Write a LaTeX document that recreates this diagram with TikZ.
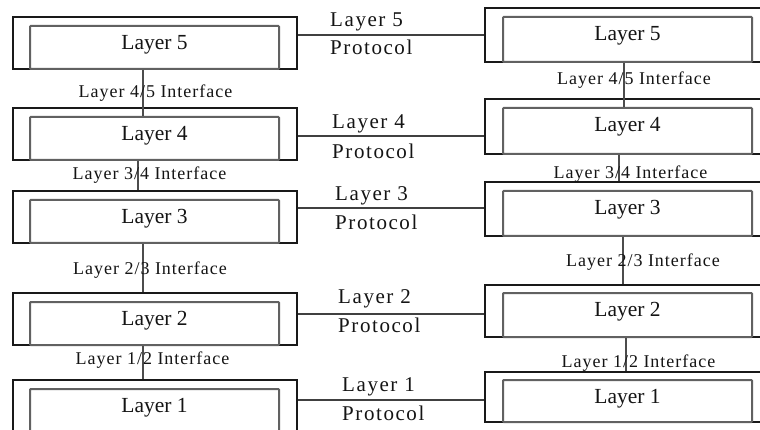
\documentclass[tikz,border=0pt]{standalone}
\usepackage{fontspec}
\setmainfont{Liberation Serif}
\usetikzlibrary{fit,calc}

\tikzset{
  outerbox/.style={draw=black!90, line width=1.3pt, inner sep=0pt, fill=white},
  innerbox/.style={draw=black!62, line width=2pt, inner sep=0pt, fill=white, rounded corners=0.8pt},
  boxlabel/.style={anchor=base, inner sep=0pt, text=black!92,
    font=\fontsize{21.5}{24}\selectfont},
  ifacelabel/.style={anchor=base, inner sep=0pt, text=black!92,
    font=\fontsize{18}{20}\selectfont\addfontfeatures{LetterSpace=5.5}},
  protolabel/.style={anchor=base west, inner sep=0pt, text=black!92,
    font=\fontsize{21}{24}\selectfont\addfontfeatures{LetterSpace=7.5}},
  ifaceline/.style={draw=black!70, line width=1.8pt},
  protoline/.style={draw=black!75, line width=1.5pt},
}

% #1 name, #2 outer left, #3 outer right, #4 outer top,
% #5 inner left, #6 inner right, #7 inner top, #8 bottom, #9 label
\newcommand{\layerbox}[9]{%
  \node[outerbox, fit={(#2,#4) (#3,#8)}] (o#1) {};
  \node[innerbox, fit={(#5,#7) (#6,#8)}] (i#1) {};
  \node[boxlabel] (t#1) at ($(i#1.north)+(0,24.5)$) {#9};
}

\begin{document}
\begin{tikzpicture}[x=1pt,y=-1pt]
  \useasboundingbox (0,0) rectangle (760,430);
  \fill[white] (0,0) rectangle (760,430);
  \clip (0,0) rectangle (760,430);

  % left stack
  \layerbox{5L}{13}{297}{17}{30}{279}{26}{69}{Layer 5}
  \layerbox{4L}{13}{297}{108}{30}{279}{117}{160}{Layer 4}
  \layerbox{3L}{13}{297}{191}{30}{279}{200}{243}{Layer 3}
  \layerbox{2L}{13}{297}{293}{30}{279}{302}{345}{Layer 2}
  \layerbox{1L}{13}{297}{380}{30}{279}{389}{433}{Layer 1}

  % right stack
  \layerbox{5R}{485}{775}{8}{503}{752}{17}{62}{Layer 5}
  \layerbox{4R}{485}{775}{99}{503}{752}{108}{154}{Layer 4}
  \layerbox{3R}{485}{775}{182}{503}{752}{191}{236}{Layer 3}
  \layerbox{2R}{485}{775}{285}{503}{752}{293}{337}{Layer 2}
  \layerbox{1R}{485}{775}{372}{503}{752}{380}{422}{Layer 1}

  % interfaces between adjacent layers
  \draw[ifaceline] ([xshift=-11.5pt]i5L.south) -- ([xshift=-11.5pt]i4L.north);
  \draw[ifaceline] ([xshift=-16.5pt]i4L.south) -- ([xshift=-17pt]o3L.north);
  \draw[ifaceline] ([xshift=-11.5pt]i3L.south) -- ([xshift=-12pt]o2L.north);
  \draw[ifaceline] ([xshift=-11.5pt]i2L.south) -- ([xshift=-12pt]o1L.north);

  \draw[ifaceline] ([xshift=-3.5pt]i5R.south) -- ([xshift=-3.5pt]i4R.north);
  \draw[ifaceline] ([xshift=-8.5pt]i4R.south) -- ([xshift=-11pt]o3R.north);
  \draw[ifaceline] ([xshift=-4.5pt]i3R.south) -- ([xshift=-7pt]o2R.north);
  \draw[ifaceline] ([xshift=-1.5pt]i2R.south) -- ([xshift=-4pt]o1R.north);

  \node[ifacelabel] (f45L) at (155.5,98) {Layer 4/5 Interface};
  \node[ifacelabel] (f34L) at (149.5,180) {Layer 3/4 Interface};
  \node[ifacelabel] (f23L) at (150,275) {Layer 2/3 Interface};
  \node[ifacelabel] (f12L) at (152.5,364) {Layer 1/2 Interface};

  \node[ifacelabel] (f45R) at (634,85) {Layer 4/5 Interface};
  \node[ifacelabel] (f34R) at (630.5,179) {Layer 3/4 Interface};
  \node[ifacelabel] (f23R) at (643,266) {Layer 2/3 Interface};
  \node[ifacelabel] (f12R) at (638.5,367) {Layer 1/2 Interface};

  % peer protocols
  \coordinate (y5) at (0,35);
  \coordinate (y4) at (0,136);
  \coordinate (y3) at (0,208);
  \coordinate (y2) at (0,314);
  \coordinate (y1) at (0,400);
  \draw[protoline] (o5L.east |- y5) -- (o5R.west |- y5);
  \draw[protoline] (o4L.east |- y4) -- (o4R.west |- y4);
  \draw[protoline] (o3L.east |- y3) -- (o3R.west |- y3);
  \draw[protoline] (o2L.east |- y2) -- (o2R.west |- y2);
  \draw[protoline] (o1L.east |- y1) -- (o1R.west |- y1);

  \node[protolabel] (p5a) at (330,27) {Layer 5};
  \node[protolabel] (p5b) at (330,55) {Protocol};
  \node[protolabel] (p4a) at (332,129) {Layer 4};
  \node[protolabel] (p4b) at (332,159) {Protocol};
  \node[protolabel] (p3a) at (335,201) {Layer 3};
  \node[protolabel] (p3b) at (335,230) {Protocol};
  \node[protolabel] (p2a) at (338,303) {Layer 2};
  \node[protolabel] (p2b) at (338,332) {Protocol};
  \node[protolabel] (p1a) at (342,391) {Layer 1};
  \node[protolabel] (p1b) at (342,420) {Protocol};
\end{tikzpicture}
\end{document}
